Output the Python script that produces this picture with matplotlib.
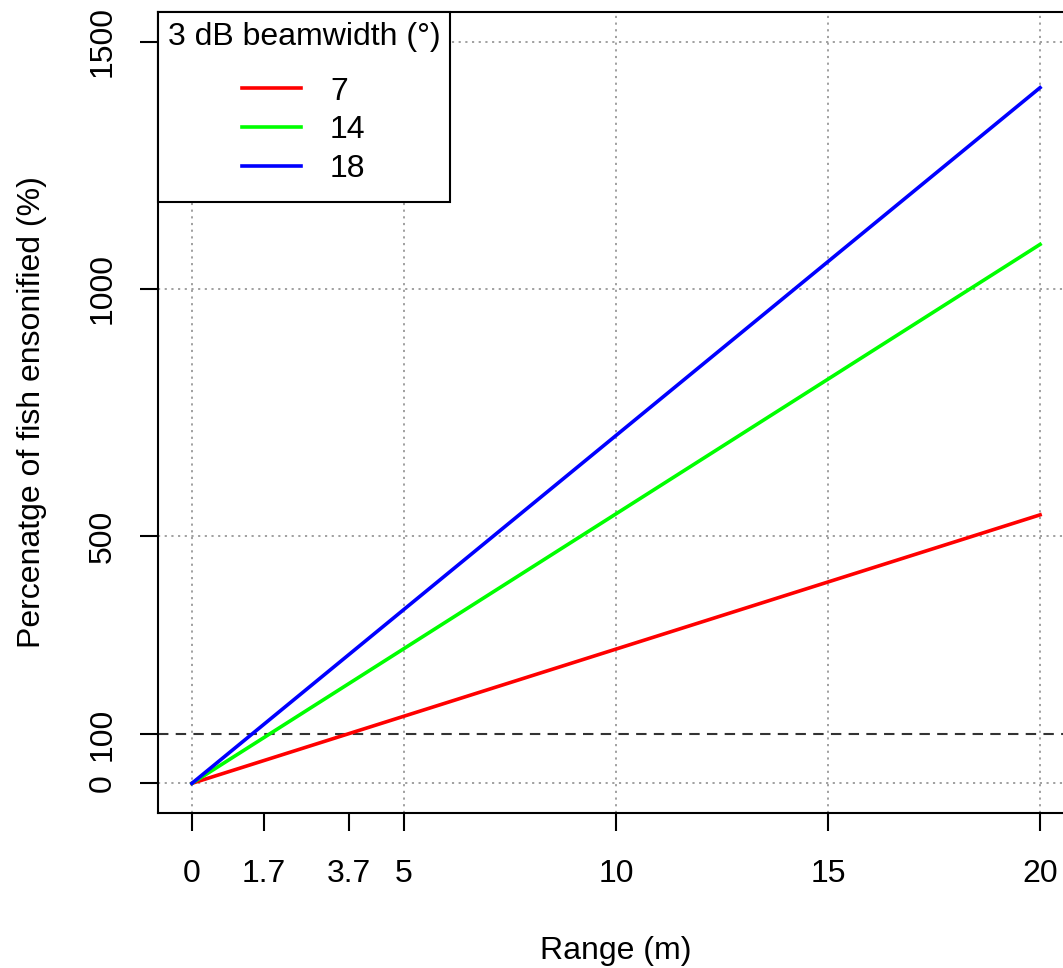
import matplotlib
matplotlib.use("Agg")
import matplotlib.pyplot as plt

plt.rcParams['font.family'] = ['Liberation Sans', 'DejaVu Sans']
plt.rcParams['font.size'] = 23

# Range (m) and percentage ensonified for each 3 dB beamwidth
range_m = [0, 20]
beamwidths = ['7', '14', '18']
pct_7 = [0, 543]
pct_14 = [0, 1090]
pct_18 = [0, 1407]
series = [pct_7, pct_14, pct_18]
colors = ['#FF0000', '#00FF00', '#0000FF']

x_ticks = [0, 1.7, 3.7, 5, 10, 15, 20]
y_ticks = [0, 100, 500, 1000, 1500]
x_grid = [0, 5, 10, 15, 20]
y_grid = [0, 500, 1000, 1500]
threshold = 100

fig = plt.figure(figsize=(10.63, 9.68), dpi=100)
ax = fig.add_axes([158 / 1063, 155 / 968, 916 / 1063, 801 / 968])
ax.set_xlim(-0.8, 20.8)
ax.set_ylim(-60, 1560)

for gx in x_grid:
    ax.axvline(gx, color='#999999', lw=1.3, ls=(0, (1.2, 2.5)), zorder=1)
for gy in y_grid:
    ax.axhline(gy, color='#999999', lw=1.3, ls=(0, (1.2, 2.5)), zorder=1)
ax.axhline(threshold, color='#333333', lw=1.5, ls=(0, (5, 3.5)), zorder=2)

for vals, lab, col in zip(series, beamwidths, colors):
    ax.plot(range_m, vals, color=col, lw=2.6, label=lab, zorder=3)

ax.set_xticks(x_ticks)
ax.set_xticklabels(['0', '1.7', '3.7', '5', '10', '15', '20'])
ax.set_yticks(y_ticks)
ax.set_yticklabels([str(v) for v in y_ticks])
ax.tick_params(axis='both', length=13, width=1.5, direction='out')
ax.tick_params(axis='x', pad=20)
ax.tick_params(axis='y', pad=16)
for lbl in ax.get_yticklabels():
    lbl.set_rotation(90)
    lbl.set_va('center')
    lbl.set_ha('right')

for sp in ax.spines.values():
    sp.set_linewidth(1.5)

ax.set_xlabel('Range (m)', labelpad=34)
ax.set_ylabel('Percenatge of fish ensonified (%)', labelpad=29)

leg = ax.legend(title='3 dB beamwidth (°)', loc='upper left', bbox_to_anchor=(0, 1),
                borderaxespad=0, fancybox=False, edgecolor='black', framealpha=1,
                handlelength=1.85, handletextpad=0.9, labelspacing=0.27,
                borderpad=0.3, alignment='center', title_fontsize=23)
leg.get_frame().set_linewidth(1.5)
leg.set_zorder(5)
# extra room around the entries block, below the title
leg._legend_box.sep = 12
leg._legend_handle_box.pad = 6

fig.savefig('out.png', dpi=100)
